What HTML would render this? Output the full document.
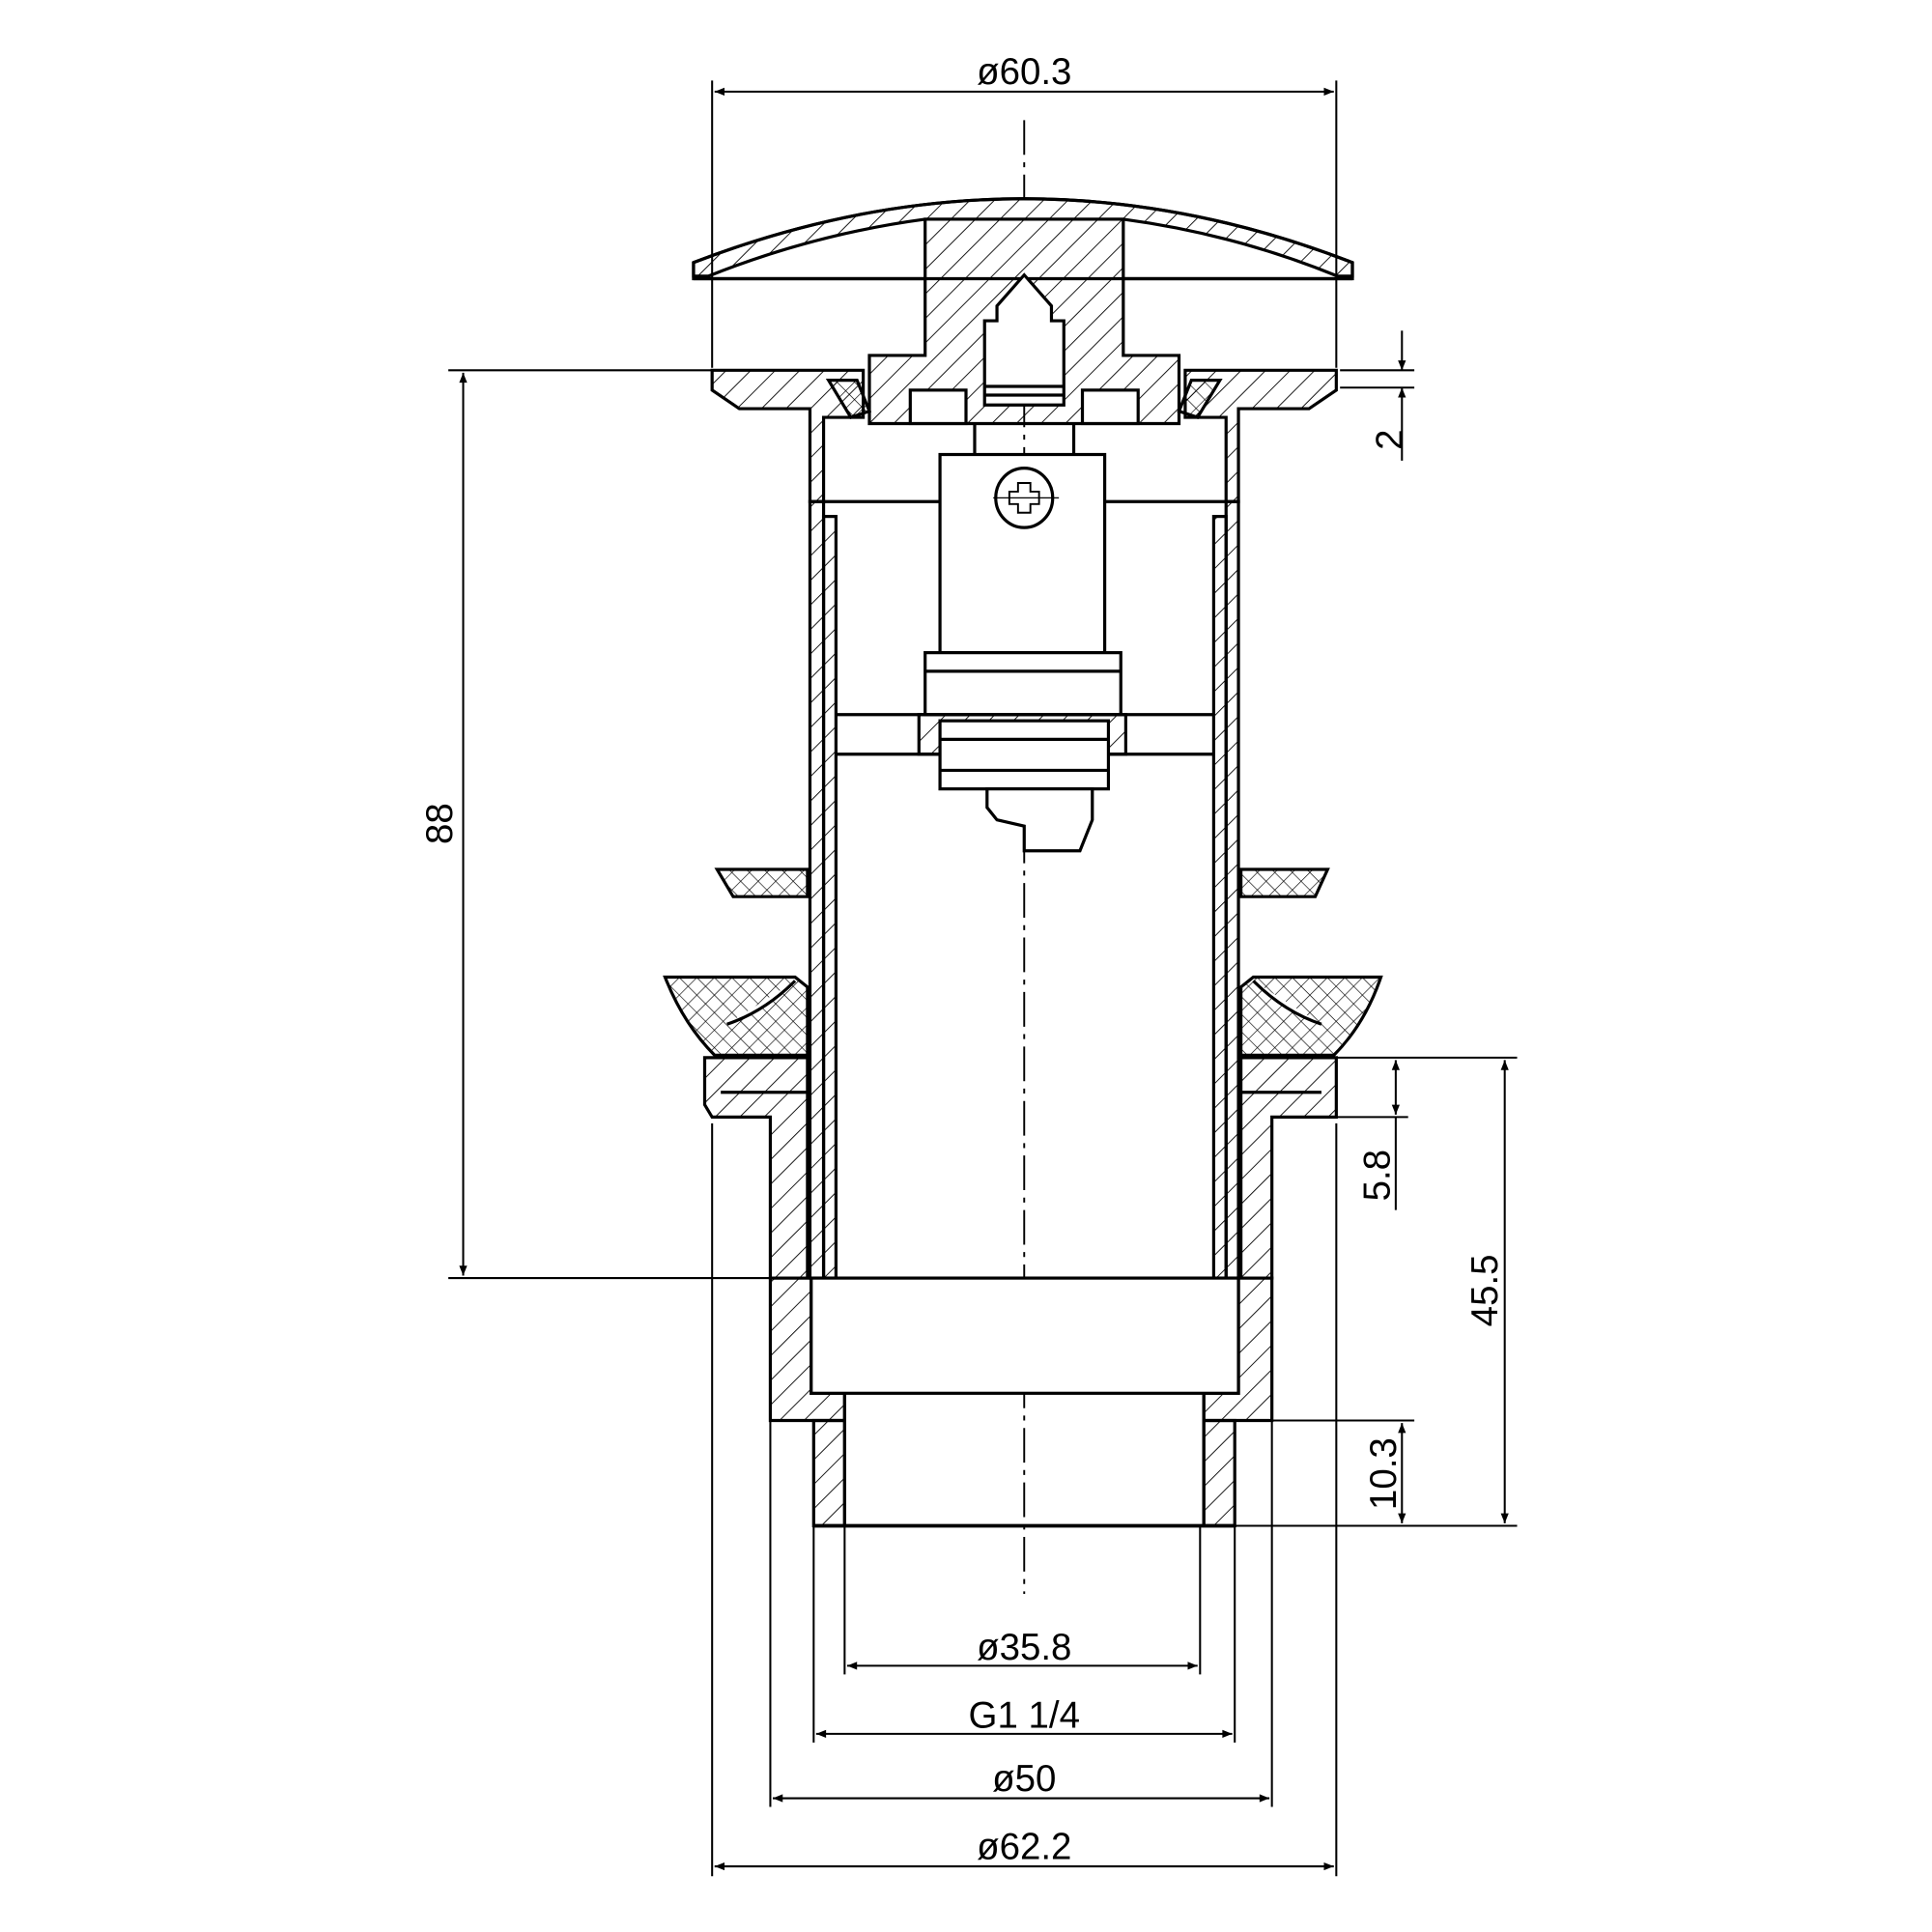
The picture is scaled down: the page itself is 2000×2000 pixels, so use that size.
<!DOCTYPE html>
<html><head><meta charset="utf-8"><style>html,body{margin:0;padding:0;background:#fff}svg{display:block}</style></head>
<body>
<svg width="2000" height="2000" viewBox="0 0 1560 1560" xmlns="http://www.w3.org/2000/svg" font-family="Liberation Sans, sans-serif">
<defs>
<pattern id="h" width="14" height="14" patternUnits="userSpaceOnUse" patternTransform="rotate(45)"><line x1="0" y1="0" x2="0" y2="14" stroke="#000" stroke-width="1.4"/></pattern>
<pattern id="x" width="10" height="10" patternUnits="userSpaceOnUse" patternTransform="rotate(45)"><line x1="0" y1="0" x2="0" y2="10" stroke="#000" stroke-width="1"/><line x1="0" y1="0" x2="10" y2="0" stroke="#000" stroke-width="1"/></pattern>
<marker id="a" viewBox="0 0 10 10" refX="10" refY="5" markerWidth="12" markerHeight="8" orient="auto-start-reverse" markerUnits="userSpaceOnUse"><path d="M0,1 L10,5 L0,9 Z" fill="#000"/></marker>
</defs>
<g transform="translate(-3,-3)">
<g stroke="#000" stroke-width="2.5" fill="none">
<line x1="830" y1="100" x2="830" y2="1290" stroke-width="1.5" stroke-dasharray="28,6,4,6"/>
<!-- cap -->
<path d="M563,228 L563,215 Q830,112 1095,215 L1095,228 Z" fill="#fff"/>
<path d="M563,215 Q830,112 1095,215 L1095,226 L1083,226 Q1000,192 910,180 L750,180 Q660,192 575,226 L563,226 Z" fill="url(#h)"/>
<path d="M750,180 L750,290 L705,290 L705,345 L955,345 L955,290 L910,290 L910,180 Z" fill="url(#h)"/>
<line x1="563" y1="228" x2="750" y2="228"/><line x1="910" y1="228" x2="1095" y2="228"/>
<path d="M808,250 L830,225 L852,250 L852,262 L862,262 L862,330 L798,330 L798,262 L808,262 Z" fill="#fff"/>
<line x1="798" y1="315" x2="862" y2="315"/><line x1="798" y1="322" x2="862" y2="322"/>
<rect x="738" y="318" width="45" height="27" fill="#fff"/><rect x="877" y="318" width="45" height="27" fill="#fff"/>
<path d="M578,302 L700,302 L700,340 L668,340 L668,408 L657,408 L657,333 L600,333 L578,318 Z" fill="url(#h)"/>
<path d="M1082,302 L960,302 L960,340 L993,340 L993,408 L1003,408 L1003,333 L1060,333 L1082,318 Z" fill="url(#h)"/>
<path d="M672,310 L695,310 L705,335 L690,340 Z" fill="url(#x)"/><path d="M988,310 L965,310 L955,335 L970,340 Z" fill="url(#x)"/>
<line x1="790" y1="345" x2="790" y2="370"/><line x1="870" y1="345" x2="870" y2="370"/>
<line x1="668" y1="408" x2="993" y2="408"/>
<rect x="657" y="408" width="11" height="627" fill="url(#h)"/>
<rect x="668" y="420" width="10" height="615" fill="url(#h)"/>
<rect x="993" y="408" width="10" height="627" fill="url(#h)"/>
<rect x="983" y="420" width="10" height="615" fill="url(#h)"/>
<rect x="762" y="370" width="133" height="160" fill="#fff"/>
<ellipse cx="830" cy="405" rx="23" ry="24"/>
<path d="M825,393 h10 v7 h7 v10 h-7 v7 h-10 v-7 h-7 v-10 h7 Z" stroke-width="1.5"/>
<line x1="805" y1="405" x2="858" y2="405" stroke-width="1"/>
<rect x="750" y="530" width="158" height="50" fill="#fff"/>
<line x1="750" y1="545" x2="908" y2="545"/>
<line x1="678" y1="580" x2="983" y2="580"/><line x1="678" y1="612" x2="983" y2="612"/>
<rect x="745" y="580" width="167" height="32" fill="url(#h)"/>
<rect x="762" y="585" width="136" height="55" fill="#fff"/>
<line x1="762" y1="600" x2="898" y2="600"/><line x1="762" y1="625" x2="898" y2="625"/>
<path d="M800,640 L885,640 L885,665 L875,690 L830,690 L830,670 L808,665 L800,655 Z" fill="#fff"/>
<path d="M582,705 L655,705 L655,727 L595,727 Z" fill="url(#x)"/>
<path d="M1005,705 L1075,705 L1065,727 L1005,727 Z" fill="url(#x)"/>
<path d="M540,792 L645,792 L655,800 L655,855 L580,855 Q555,830 540,792 Z M590,830 Q620,820 645,795" fill="url(#x)"/>
<path d="M1118,792 L1015,792 L1005,800 L1005,855 L1080,855 Q1105,830 1118,792 Z M1070,830 Q1040,820 1015,795" fill="url(#x)"/>
<path d="M572,857 L655,857 L655,1035 L625,1035 L625,905 L578,905 L572,895 Z" fill="url(#h)"/>
<path d="M1082,857 L1005,857 L1005,1035 L1030,1035 L1030,905 L1082,905 Z" fill="url(#h)"/>
<line x1="585" y1="885" x2="655" y2="885"/><line x1="1005" y1="885" x2="1070" y2="885"/>
<path d="M625,1035 L658,1035 L658,1128 L685,1128 L685,1150 L625,1150 Z" fill="url(#h)"/>
<path d="M1030,1035 L1003,1035 L1003,1128 L975,1128 L975,1150 L1030,1150 Z" fill="url(#h)"/>
<rect x="658" y="1035" width="345" height="93" fill="#fff"/>
<rect x="660" y="1150" width="25" height="85" fill="url(#h)"/>
<rect x="975" y="1150" width="25" height="85" fill="url(#h)"/>
<line x1="685" y1="1128" x2="685" y2="1235"/><line x1="975" y1="1128" x2="975" y2="1235"/>
<line x1="660" y1="1235" x2="1000" y2="1235" stroke-width="3"/>
</g>
<g stroke="#000" stroke-width="1.6" fill="none">
<line x1="578" y1="68" x2="578" y2="300"/><line x1="1082" y1="68" x2="1082" y2="300"/>
<line x1="580" y1="77" x2="1080" y2="77" marker-start="url(#a)" marker-end="url(#a)"/>
<line x1="365" y1="302" x2="578" y2="302"/><line x1="365" y1="1035" x2="625" y2="1035"/>
<line x1="377" y1="304" x2="377" y2="1033" marker-start="url(#a)" marker-end="url(#a)"/>
<line x1="1085" y1="302" x2="1145" y2="302"/><line x1="1085" y1="316" x2="1145" y2="316"/>
<line x1="1135" y1="270" x2="1135" y2="302" marker-end="url(#a)"/><line x1="1135" y1="375" x2="1135" y2="316" marker-end="url(#a)"/>
<line x1="1082" y1="857" x2="1228" y2="857"/><line x1="1000" y1="1235" x2="1228" y2="1235"/>
<line x1="1218" y1="859" x2="1218" y2="1233" marker-start="url(#a)" marker-end="url(#a)"/>
<line x1="1082" y1="905" x2="1140" y2="905"/>
<line x1="1130" y1="859" x2="1130" y2="903" marker-start="url(#a)" marker-end="url(#a)"/>
<line x1="1130" y1="905" x2="1130" y2="980"/>
<line x1="1005" y1="1150" x2="1145" y2="1150"/>
<line x1="1135" y1="1152" x2="1135" y2="1233" marker-start="url(#a)" marker-end="url(#a)"/>
<line x1="685" y1="1235" x2="685" y2="1355"/><line x1="972" y1="1235" x2="972" y2="1355"/>
<line x1="687" y1="1348" x2="970" y2="1348" marker-start="url(#a)" marker-end="url(#a)"/>
<line x1="660" y1="1235" x2="660" y2="1410"/><line x1="1000" y1="1235" x2="1000" y2="1410"/>
<line x1="662" y1="1403" x2="998" y2="1403" marker-start="url(#a)" marker-end="url(#a)"/>
<line x1="625" y1="1150" x2="625" y2="1462"/><line x1="1030" y1="1150" x2="1030" y2="1462"/>
<line x1="627" y1="1455" x2="1028" y2="1455" marker-start="url(#a)" marker-end="url(#a)"/>
<line x1="578" y1="910" x2="578" y2="1518"/><line x1="1082" y1="910" x2="1082" y2="1518"/>
<line x1="580" y1="1510" x2="1080" y2="1510" marker-start="url(#a)" marker-end="url(#a)"/>
</g>
<g font-size="30" fill="#000" text-anchor="middle">
<text x="830" y="71">ø60.3</text>
<text x="830" y="1343">ø35.8</text>
<text x="830" y="1398">G1 1/4</text>
<text x="830" y="1449">ø50</text>
<text x="830" y="1504">ø62.2</text>
<text transform="translate(368,668) rotate(-90)">88</text>
<text transform="translate(1135,358) rotate(-90)">2</text>
<text transform="translate(1125,952) rotate(-90)">5.8</text>
<text transform="translate(1212,1045) rotate(-90)">45.5</text>
<text transform="translate(1130,1193) rotate(-90)">10.3</text>
</g>
</g>
</svg>
</body></html>
